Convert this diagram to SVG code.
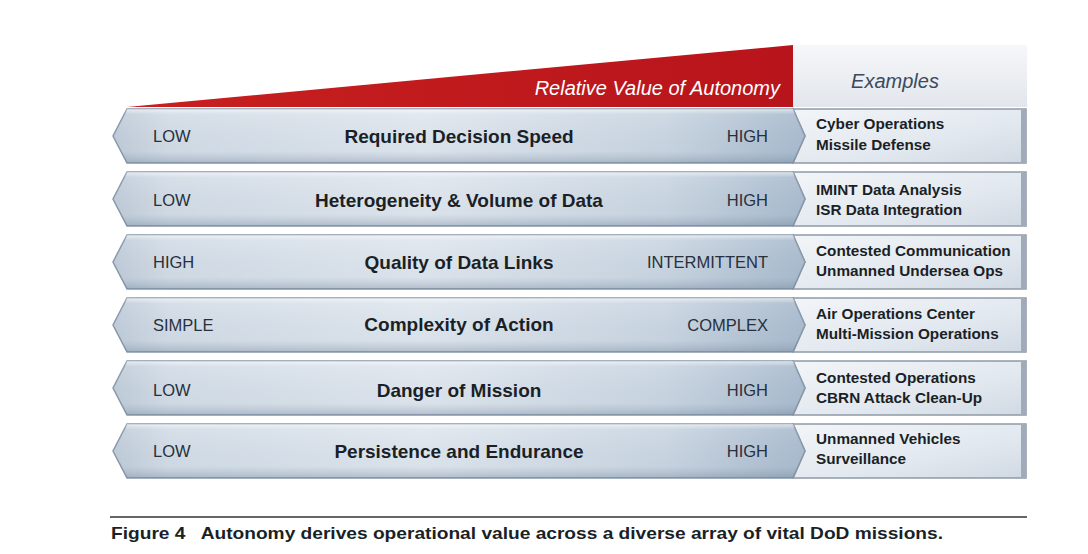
<svg xmlns="http://www.w3.org/2000/svg" width="1088" height="554" viewBox="0 0 1088 554">
<defs>
<linearGradient id="barH" x1="0" y1="0" x2="1" y2="0">
<stop offset="0" stop-color="#bfcbd8"/>
<stop offset="0.08" stop-color="#d2dce6"/>
<stop offset="0.45" stop-color="#dfe6ee"/>
<stop offset="0.8" stop-color="#c9d5e1"/>
<stop offset="1" stop-color="#a8bacd"/>
</linearGradient>
<linearGradient id="barV" x1="0" y1="0" x2="0" y2="1">
<stop offset="0" stop-color="#ffffff" stop-opacity="0.6"/>
<stop offset="0.1" stop-color="#ffffff" stop-opacity="0.1"/>
<stop offset="0.78" stop-color="#7d90a6" stop-opacity="0.05"/>
<stop offset="1" stop-color="#5f7389" stop-opacity="0.35"/>
</linearGradient>
<linearGradient id="exG" x1="0" y1="0" x2="1" y2="1">
<stop offset="0" stop-color="#f2f5f8"/>
<stop offset="0.6" stop-color="#e2e8ef"/>
<stop offset="1" stop-color="#d0d9e3"/>
</linearGradient>
<linearGradient id="hdrG" x1="0" y1="0" x2="0" y2="1">
<stop offset="0" stop-color="#f6f7f9"/>
<stop offset="1" stop-color="#e2e6ec"/>
</linearGradient>
<linearGradient id="redG" x1="0" y1="0" x2="1" y2="0">
<stop offset="0" stop-color="#c8201f"/>
<stop offset="1" stop-color="#b8141b"/>
</linearGradient>
<style>
.bar{fill:url(#barH);stroke:#8797a9;stroke-width:1.5}
.shade{fill:url(#barV)}
.ex{fill:url(#exG);stroke:#8e9aa7;stroke-width:1.5}
.exr{fill:#9eabb8}
.lo{font-family:"Liberation Sans",Arial,sans-serif;font-size:16.5px;fill:#27303c}
.hi{font-family:"Liberation Sans",Arial,sans-serif;font-size:16.5px;fill:#27303c;text-anchor:end}
.ttl{font-family:"Liberation Sans",Arial,sans-serif;font-size:19px;font-weight:bold;fill:#1b1f26;text-anchor:middle}
.et{font-family:"Liberation Sans",Arial,sans-serif;font-size:15.3px;font-weight:bold;fill:#1b1f26}
</style>
</defs>
<rect width="1088" height="554" fill="#ffffff"/>

<g id="header">
<polygon points="127,107 793,45 793,107" fill="url(#redG)"/>
<text x="780" y="95" font-family="'Liberation Sans',Arial,sans-serif" font-size="20" font-style="italic" fill="#ffffff" text-anchor="end">Relative Value of Autonomy</text>
<rect x="793" y="45" width="234" height="62" fill="url(#hdrG)"/>
<text x="895" y="88" font-family="'Liberation Sans',Arial,sans-serif" font-size="20" font-style="italic" fill="#3b4a5e" text-anchor="middle">Examples</text>
</g>

<g id="row1">
<polygon class="ex" points="793,109 1026,109 1026,163 793,163 805,136"/>
<rect class="exr" x="1021" y="110" width="5" height="53"/>
<polygon class="bar" points="127,109 793,109 805,136 793,163 127,163 113,136"/>
<polygon class="shade" points="127,109 793,109 805,136 793,163 127,163 113,136"/>
<text class="lo" x="153" y="142">LOW</text>
<text class="ttl" x="459" y="143">Required Decision Speed</text>
<text class="hi" x="768" y="142">HIGH</text>
<text class="et" x="816" y="129">Cyber Operations</text>
<text class="et" x="816" y="150">Missile Defense</text>
</g>

<g id="row2">
<polygon class="ex" points="793,172 1026,172 1026,226 793,226 805,199"/>
<rect class="exr" x="1021" y="173" width="5" height="53"/>
<polygon class="bar" points="127,172 793,172 805,199 793,226 127,226 113,199"/>
<polygon class="shade" points="127,172 793,172 805,199 793,226 127,226 113,199"/>
<text class="lo" x="153" y="206">LOW</text>
<text class="ttl" x="459" y="207">Heterogeneity &amp; Volume of Data</text>
<text class="hi" x="768" y="206">HIGH</text>
<text class="et" x="816" y="195">IMINT Data Analysis</text>
<text class="et" x="816" y="215">ISR Data Integration</text>
</g>

<g id="row3">
<polygon class="ex" points="793,235 1026,235 1026,289 793,289 805,262"/>
<rect class="exr" x="1021" y="236" width="5" height="53"/>
<polygon class="bar" points="127,235 793,235 805,262 793,289 127,289 113,262"/>
<polygon class="shade" points="127,235 793,235 805,262 793,289 127,289 113,262"/>
<text class="lo" x="153" y="268">HIGH</text>
<text class="ttl" x="459" y="269">Quality of Data Links</text>
<text class="hi" x="768" y="268">INTERMITTENT</text>
<text class="et" x="816" y="256">Contested Communication</text>
<text class="et" x="816" y="276">Unmanned Undersea Ops</text>
</g>

<g id="row4">
<polygon class="ex" points="793,298 1026,298 1026,352 793,352 805,325"/>
<rect class="exr" x="1021" y="299" width="5" height="53"/>
<polygon class="bar" points="127,298 793,298 805,325 793,352 127,352 113,325"/>
<polygon class="shade" points="127,298 793,298 805,325 793,352 127,352 113,325"/>
<text class="lo" x="153" y="331">SIMPLE</text>
<text class="ttl" x="459" y="331">Complexity of Action</text>
<text class="hi" x="768" y="331">COMPLEX</text>
<text class="et" x="816" y="319">Air Operations Center</text>
<text class="et" x="816" y="339">Multi-Mission Operations</text>
</g>

<g id="row5">
<polygon class="ex" points="793,361 1026,361 1026,415 793,415 805,388"/>
<rect class="exr" x="1021" y="362" width="5" height="53"/>
<polygon class="bar" points="127,361 793,361 805,388 793,415 127,415 113,388"/>
<polygon class="shade" points="127,361 793,361 805,388 793,415 127,415 113,388"/>
<text class="lo" x="153" y="396">LOW</text>
<text class="ttl" x="459" y="397">Danger of Mission</text>
<text class="hi" x="768" y="396">HIGH</text>
<text class="et" x="816" y="383">Contested Operations</text>
<text class="et" x="816" y="403">CBRN Attack Clean-Up</text>
</g>

<g id="row6">
<polygon class="ex" points="793,424 1026,424 1026,478 793,478 805,451"/>
<rect class="exr" x="1021" y="425" width="5" height="53"/>
<polygon class="bar" points="127,424 793,424 805,451 793,478 127,478 113,451"/>
<polygon class="shade" points="127,424 793,424 805,451 793,478 127,478 113,451"/>
<text class="lo" x="153" y="457">LOW</text>
<text class="ttl" x="459" y="458">Persistence and Endurance</text>
<text class="hi" x="768" y="457">HIGH</text>
<text class="et" x="816" y="444">Unmanned Vehicles</text>
<text class="et" x="816" y="464">Surveillance</text>
</g>

<g id="caption">
<line x1="110" y1="517" x2="1027" y2="517" stroke="#333333" stroke-width="1.5"/>
<text x="111" y="539" font-family="'Liberation Sans',Arial,sans-serif" font-size="17" font-weight="bold" fill="#1b1f26" textLength="832" lengthAdjust="spacingAndGlyphs" xml:space="preserve">Figure 4   Autonomy derives operational value across a diverse array of vital DoD missions.</text>
</g>
</svg>
